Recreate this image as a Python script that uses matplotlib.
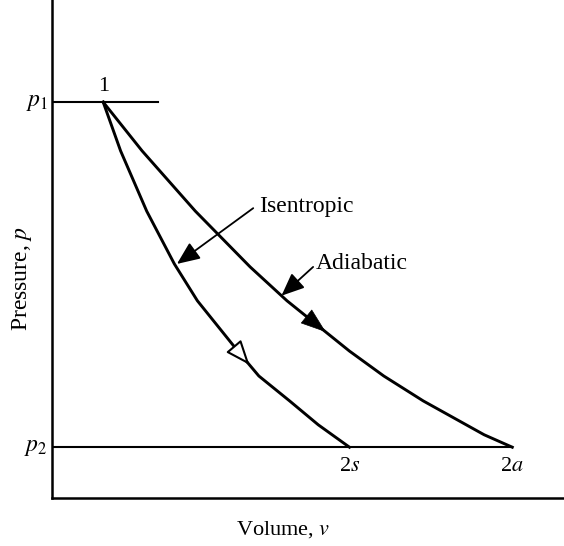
import numpy as np
import matplotlib
matplotlib.use("Agg")
import matplotlib.pyplot as plt

plt.rcParams['font.family'] = ['Liberation Serif', 'DejaVu Serif']
plt.rcParams['mathtext.fontset'] = 'stix'

# values (arbitrary units, axes run 0..10)
p1 = 7.95
p2 = 1.02
iso_v = [1.00, 1.34, 1.85, 2.39, 2.84, 3.63, 4.04, 4.64, 5.20, 5.81]
iso_p = [7.95, 6.97, 5.76, 4.70, 3.96, 2.95, 2.45, 1.95, 1.47, 1.02]
adi_v = [1.00, 1.76, 2.80, 3.87, 4.59, 5.81, 6.48, 7.25, 8.44, 8.99]
adi_p = [7.95, 6.97, 5.76, 4.64, 3.96, 2.95, 2.45, 1.95, 1.27, 1.02]
p1_line_end = 2.07

fig = plt.figure(figsize=(5.64, 5.46), dpi=100)
ax = fig.add_axes([52 / 564, 48 / 546, 512 / 564, 498 / 546])
ax.set_xlim(0, 10)
ax.set_ylim(0, 10)
for s in ['top', 'right']:
    ax.spines[s].set_visible(False)
for s in ['left', 'bottom']:
    ax.spines[s].set_linewidth(1.8)
ax.set_xticks([])
ax.set_yticks([])

lw = 2.1
ax.plot(iso_v, iso_p, color='k', lw=lw, solid_joinstyle='round')
ax.plot(adi_v, adi_p, color='k', lw=lw, solid_joinstyle='round')
ax.plot([0, p1_line_end], [p1, p1], color='k', lw=1.5)
ax.plot([0, adi_v[-1]], [p2, p2], color='k', lw=1.5)


def along(v, p, i, f):
    return (v[i] + f * (v[i + 1] - v[i]), p[i] + f * (p[i + 1] - p[i]))


# direction arrows on the curves
tip = along(adi_v, adi_p, 4, 0.62)
ax.annotate('', xy=tip, xytext=(adi_v[4], adi_p[4]),
            arrowprops=dict(arrowstyle='-|>,head_length=0.85,head_width=0.3',
                            color='k', lw=0.5, mutation_scale=20,
                            shrinkA=0, shrinkB=0))
tip = along(iso_v, iso_p, 5, 0.55)
ax.annotate('', xy=tip, xytext=(iso_v[5], iso_p[5]),
            arrowprops=dict(arrowstyle='-|>,head_length=0.75,head_width=0.3',
                            fc='white', ec='k', lw=1.5, mutation_scale=20,
                            shrinkA=0, shrinkB=0))

# labels with pointers
ax.annotate('', xy=(iso_v[3] + 0.05, iso_p[3]), xytext=(3.93, 5.82),
            arrowprops=dict(arrowstyle='-|>,head_length=0.7,head_width=0.3',
                            color='k', lw=1.3, mutation_scale=20,
                            shrinkA=0, shrinkB=0))
ax.text(4.04, 5.86, 'Isentropic', fontsize=17, ha='left', va='center')
ax.annotate('', xy=along(adi_v, adi_p, 3, 0.85), xytext=(5.10, 4.64),
            arrowprops=dict(arrowstyle='-|>,head_length=0.7,head_width=0.3',
                            color='k', lw=1.3, mutation_scale=20,
                            shrinkA=0, shrinkB=0))
ax.text(5.16, 4.70, 'Adiabatic', fontsize=17, ha='left', va='center')

ax.text(iso_v[0], p1 + 0.12, '1', fontsize=16, ha='center', va='bottom')
ax.text(iso_v[-1], p2 - 0.2, r'2$s$', fontsize=16, ha='center', va='top')
ax.text(adi_v[-1], p2 - 0.2, r'2$a$', fontsize=16, ha='center', va='top')
ax.text(-0.08, p1, r'$p_1$', fontsize=17, ha='right', va='center', clip_on=False)
ax.text(-0.08, p2, r'$p_2$', fontsize=17, ha='right', va='center', clip_on=False)

fig.text(283 / 564, 1 - 530 / 546, r'Volume, $v$', fontsize=16, ha='center', va='center')
fig.text(22 / 564, 1 - 278 / 546, r'Pressure, $p$', fontsize=17, ha='center',
         va='center', rotation=90)

fig.savefig('out.png', dpi=100)
